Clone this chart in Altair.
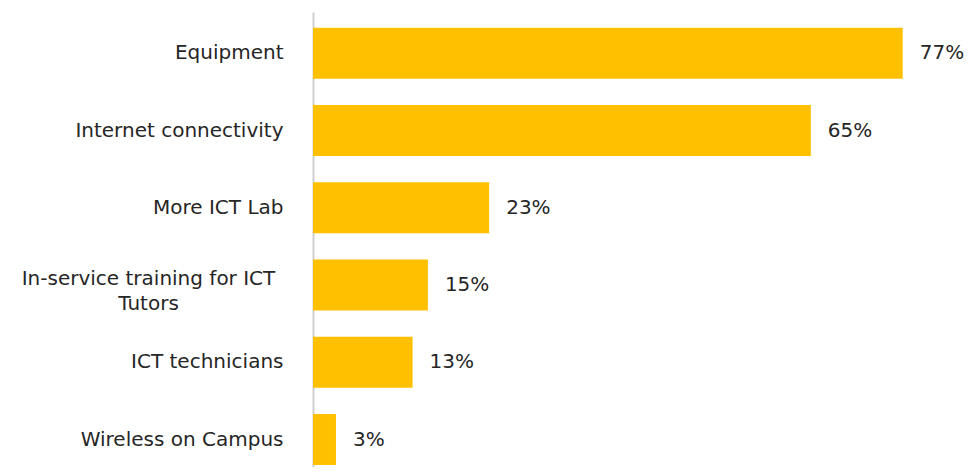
import altair as alt
import pandas as pd

categories = ["Equipment", "Internet connectivity", "More ICT Lab",
              "In-service training for ICT Tutors", "ICT technicians", "Wireless on Campus"]
values = [77, 65, 23, 15, 13, 3]

df = pd.DataFrame({"cat": categories, "val": values})
df["lbl"] = df["val"].astype(str) + "%"

FONT = "DejaVu Sans"
FS = 20
TXT = "#262626"
LONG = "In-service training for ICT Tutors"
IS_LONG = f"datum.value == '{LONG}'"

y = alt.Y("cat:N", sort=categories, title=None,
          scale=alt.Scale(paddingInner=0.34, paddingOuter=0.115, align=0.89),
          axis=alt.Axis(
              domain=True, domainColor="#D0D0D0", domainWidth=2, ticks=False, grid=False,
              labelFont=FONT, labelFontSize=FS, labelColor=TXT, labelLimit=400,
              labelLineHeight=25,
              labelExpr=f"datum.label == '{LONG}' ? ['In-service training for ICT', 'Tutors'] : datum.label",
              labelAlign={"condition": {"test": IS_LONG, "value": "center"}, "value": "right"},
              labelPadding={"condition": {"test": IS_LONG, "value": 165}, "value": 30},
              labelOffset={"condition": {"test": IS_LONG, "value": -6}, "value": 0},
          ))
x = alt.X("val:Q", title=None, scale=alt.Scale(domain=[0, 85], nice=False),
          axis=None)

bars = alt.Chart(df).mark_bar(color="#FFC000").encode(x=x, y=y)
text = alt.Chart(df).mark_text(align="left", baseline="middle", dx=17, font=FONT,
                               fontSize=FS, color=TXT).encode(
    x=x, y=alt.Y("cat:N", sort=categories), text="lbl:N")

chart = (bars + text).properties(
    width=651, height=455,
    autosize=alt.AutoSizeParams(type="none"),
    padding={"left": 305, "top": 4, "right": 1, "bottom": 0},
).configure_view(stroke=None)

chart.save("out.html", embed_options={"renderer": "svg", "actions": False})
